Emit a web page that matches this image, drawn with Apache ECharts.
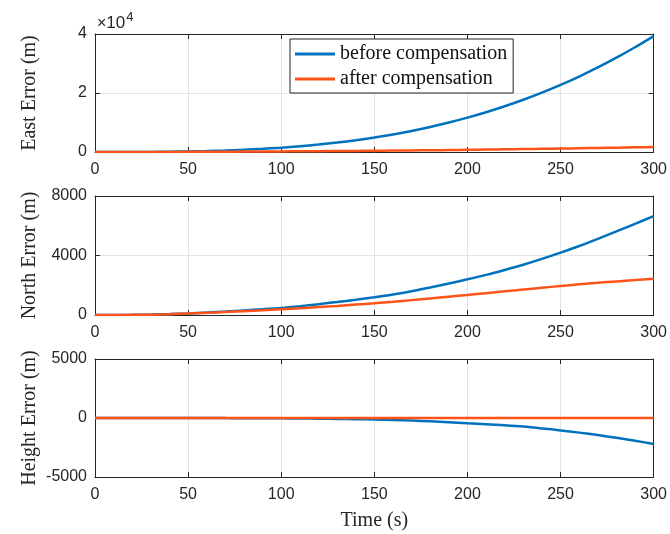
<!DOCTYPE html>
<html>
<head>
<meta charset="utf-8">
<script src="https://cdn.jsdelivr.net/npm/echarts@6/dist/echarts.min.js"></script>
<style>html,body{margin:0;padding:0;background:#fff}#c{width:670px;height:534px}</style>
</head>
<body>
<div id="c"></div>
<script>
var time = [0,10,20,30,40,50,60,70,80,90,100,110,120,130,140,150,160,170,180,190,200,210,220,230,240,250,260,270,280,290,300];
var eastBefore = [0,1,12,39,93,182,314,499,745,1061,1455,1937,2515,3197,3993,4912,5962,7150,8489,9984,11644,13480,15500,17710,20120,22740,25580,28650,31960,35510,39300];
var eastAfter = [0,2,6,12,25,45,70,100,135,170,205,245,290,335,380,425,480,540,600,670,745,820,900,985,1075,1170,1270,1375,1480,1590,1700];
var northBefore = [0,2,10,30,60,100,160,230,310,390,470,590,730,870,1020,1190,1380,1600,1850,2120,2400,2700,3030,3380,3770,4190,4640,5120,5620,6130,6650];
var northAfter = [0,2,10,25,55,100,150,200,260,320,380,450,530,610,700,790,890,1000,1110,1230,1345,1470,1590,1710,1830,1950,2060,2160,2260,2350,2440];
var heightBefore = [0,0,0,-1,-2,-4,-6,-10,-14,-20,-28,-40,-55,-75,-100,-130,-170,-220,-280,-360,-450,-530,-620,-730,-880,-1050,-1240,-1450,-1680,-1930,-2200];
var heightAfter = [0,0,0,0,0,0,0,0,0,0,0,0,0,0,0,0,0,0,0,0,0,0,0,0,0,0,0,0,0,0,0];
var xTicks = [0,50,100,150,200,250,300];
var seriesNames = ['before compensation','after compensation'];
var yNames = ['East Error (m)','North Error (m)','Height Error (m)'];
var xName = 'Time (s)';
var expLabel = '10';
var expPow = '4';

var BLUE = '#0072BD', ORANGE = '#FF5319', AX = '#262626';
var SERIF = 'Liberation Serif, Times New Roman';
var SANS = 'Liberation Sans, Arial';
var grids = [
  {left:95, right:14, top:34, height:118},
  {left:95, right:14, top:196, height:119},
  {left:95, right:14, top:359, height:118}
];
var yRanges = [[0,40000,20000],[0,8000,4000],[-5000,5000,5000]];
var tickFont = {fontFamily:SANS, fontSize:16, color:AX};
var xAxes = [], yAxes = [];
for (var i=0;i<3;i++){
  xAxes.push({type:'value', gridIndex:i, min:0, max:300, interval:50, position:'bottom',
    axisLine:{onZero:false, lineStyle:{color:AX,width:1}}, axisTick:{inside:true,length:5,lineStyle:{color:AX}},
    axisLabel:Object.assign({margin:10, formatter:function(v){return String(v);}}, tickFont),
    splitLine:{show:true,lineStyle:{color:'#e3e3e3',width:1}},
    name: i===2 ? xName : '', nameLocation:'middle', nameGap:34, nameMoveOverlap:false,
    nameTextStyle:{fontFamily:SERIF, fontSize:20, color:AX}});
  xAxes.push({type:'value', gridIndex:i, min:0, max:300, interval:50, position:'top',
    axisLine:{onZero:false, lineStyle:{color:AX,width:1}}, axisTick:{inside:true,length:5,lineStyle:{color:AX}},
    axisLabel:{show:false}, splitLine:{show:false}});
  var r = yRanges[i];
  yAxes.push({type:'value', gridIndex:i, min:r[0], max:r[1], interval:r[2], position:'left',
    axisLine:{show:true,onZero:false,lineStyle:{color:AX,width:1}}, axisTick:{show:true,inside:true,length:5,lineStyle:{color:AX}},
    axisLabel:Object.assign({margin:8, formatter: i===0 ? function(v){return String(v/10000);} : function(v){return String(v);}}, tickFont),
    splitLine:{show:true,lineStyle:{color:'#e3e3e3',width:1}},
    name:yNames[i], nameLocation:'middle', nameGap:55, nameMoveOverlap:false,
    nameTextStyle:{fontFamily:SERIF, fontSize:20, color:AX}});
  yAxes.push({type:'value', gridIndex:i, min:r[0], max:r[1], interval:r[2], position:'right',
    axisLine:{show:true,onZero:false,lineStyle:{color:AX,width:1}}, axisTick:{show:true,inside:true,length:5,lineStyle:{color:AX}},
    axisLabel:{show:false}, splitLine:{show:false}});
}
function pairs(ys){ return time.map(function(t,k){return [t, ys[k]];}); }
var data = [[eastBefore,eastAfter],[northBefore,northAfter],[heightBefore,heightAfter]];
var series = [];
for (var g=0; g<3; g++){
  for (var s=0; s<2; s++){
    series.push({type:'line', name:seriesNames[s], xAxisIndex:g*2, yAxisIndex:g*2,
      data:pairs(data[g][s]), symbol:'none', smooth:0.3,
      lineStyle:{color: s===0?BLUE:ORANGE, width:2.5}, itemStyle:{color: s===0?BLUE:ORANGE},
      z: 2+s, animation:false});
  }
}
var chart = echarts.init(document.getElementById('c'), null, {renderer:'canvas'});
chart.setOption({
  backgroundColor:'#fff',
  animation:false,
  grid:grids,
  xAxis:xAxes,
  yAxis:yAxes,
  series:series,
  legend:{data:seriesNames, orient:'vertical', left:290, top:39, itemWidth:40, itemHeight:3, itemGap:5,
    padding:[5,6,4,5], borderColor:AX, borderWidth:1, backgroundColor:'#fff',
    icon:'rect',
    textStyle:{fontFamily:SERIF, fontSize:20, color:'#111'}},
  graphic:[{type:'text', left:97, top:11, style:{
    text:'{a|×}{b|' + expLabel + '}{c|' + expPow + '}',
    rich:{a:{fontFamily:SANS, fontSize:16, fill:AX, padding:[4,0,0,0]},
          b:{fontFamily:SANS, fontSize:17, fill:AX, padding:[4,0,0,0]},
          c:{fontFamily:SANS, fontSize:13, fill:AX, verticalAlign:'top', padding:[0,0,6,1]}}}}]
});
</script>
</body>
</html>
